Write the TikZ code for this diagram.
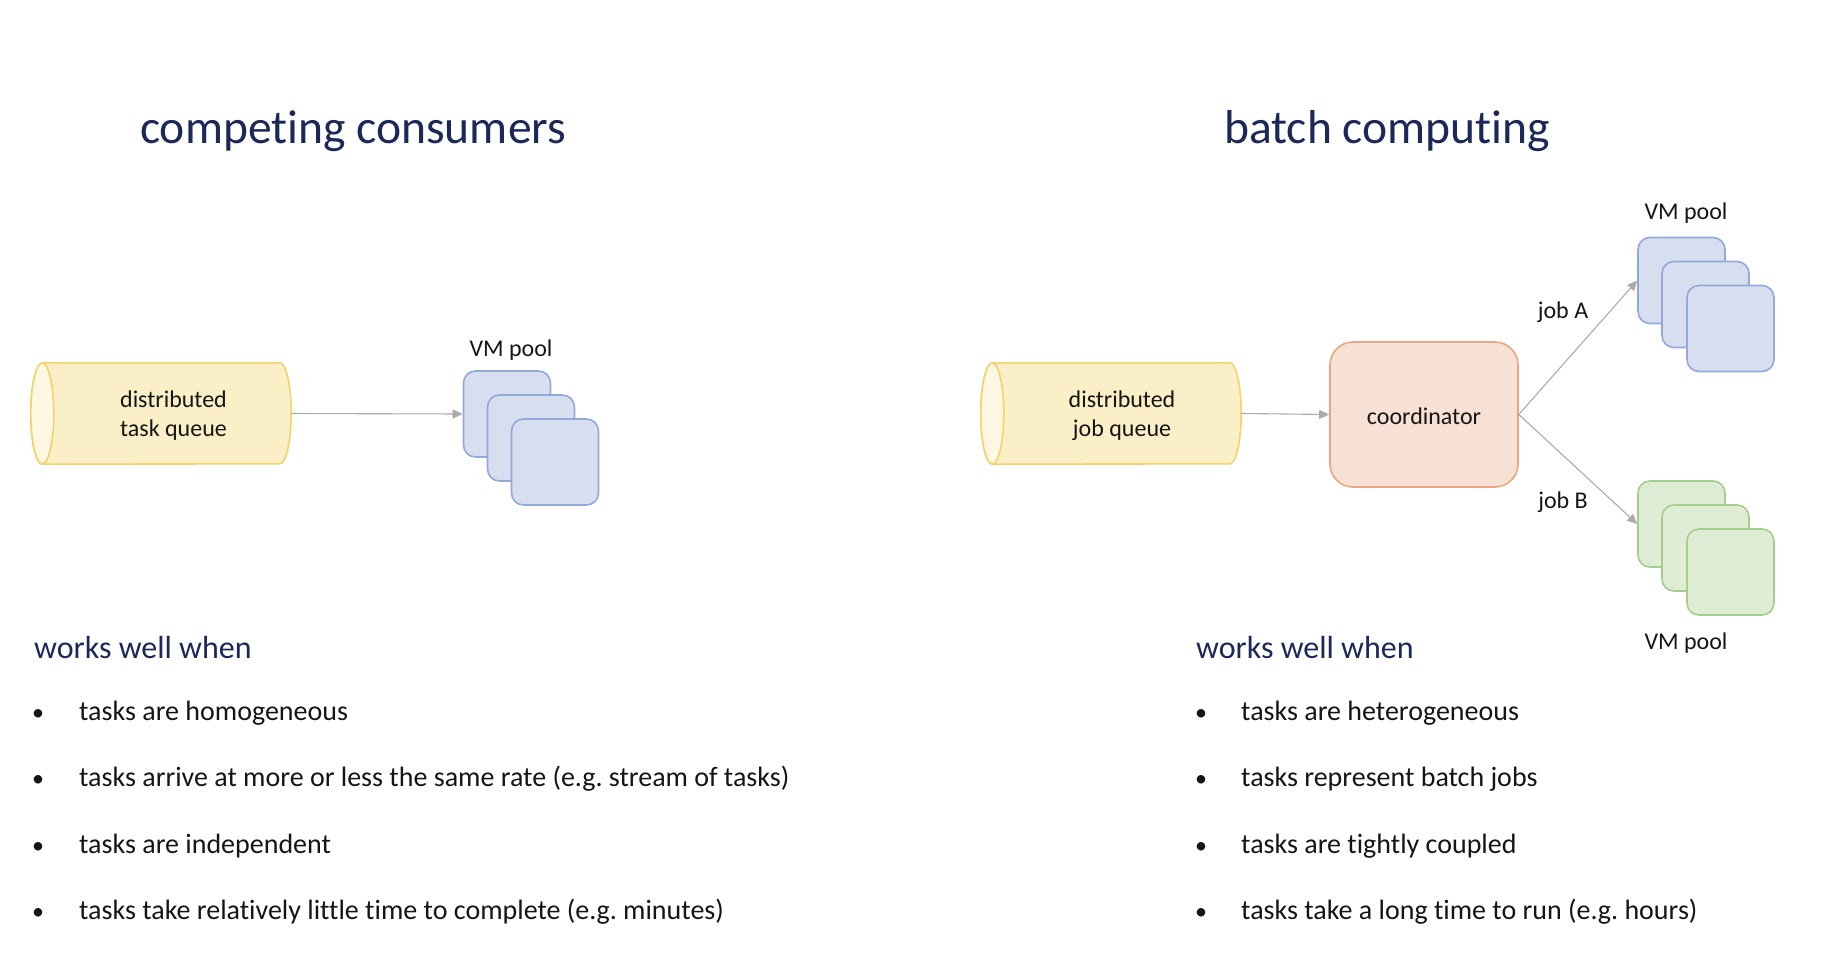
\documentclass[tikz,border=0pt]{standalone}
\usepackage{fontspec}
\setmainfont{Carlito}[Ligatures=NoCommon]
\usetikzlibrary{arrows.meta,calc}
\frenchspacing

\definecolor{navy}{HTML}{1B2858}
\definecolor{inktext}{HTML}{151515}
\definecolor{qfill}{HTML}{FBEFC8}
\definecolor{qcap}{HTML}{FDF7E3}
\definecolor{qline}{HTML}{F2D36C}
\definecolor{bfill}{HTML}{D6DEF0}
\definecolor{bline}{HTML}{93A9D9}
\definecolor{gfill}{HTML}{DEEDD3}
\definecolor{gline}{HTML}{A5CE8E}
\definecolor{cfill}{HTML}{F7E1D4}
\definecolor{cline}{HTML}{E9A680}
\definecolor{arrowgray}{HTML}{ABABAB}

\tikzset{
  title/.style={anchor=base west, text=navy, font=\fontsize{47.6}{57}\selectfont, inner sep=0pt},
  subhead/.style={anchor=base west, text=navy, font=\fontsize{32}{38}\selectfont, inner sep=0pt},
  item/.style={anchor=base west, text=inktext, font=\fontsize{28}{34}\selectfont, inner sep=0pt},
  dot/.style={anchor=base, text=inktext, font=\fontsize{24}{34}\selectfont, inner sep=0pt},
  label/.style={text=inktext, font=\fontsize{24}{29}\selectfont, align=center, inner sep=0pt},
  vmbox/.style={draw, line width=1.6pt, rounded corners=12pt, minimum width=87pt, minimum height=86pt, inner sep=0pt},
  bluevm/.style={vmbox, fill=bfill, draw=bline},
  greenvm/.style={vmbox, fill=gfill, draw=gline},
  coordbox/.style={draw=cline, fill=cfill, line width=1.6pt, rounded corners=23pt, minimum width=188pt, minimum height=145pt, inner sep=0pt},
  queuebox/.style={minimum width=260pt, minimum height=101pt, inner sep=0pt},
  flow/.style={draw=arrowgray, line width=1.1pt, -{Triangle[length=10pt,width=9pt]}}
}

% horizontal queue drawn as a cylinder lying on its side, open cap on the left
\newcommand\queueshape[1]{%
  \path[fill=qfill, draw=qline, line width=1.6pt]
    ($(#1.north west)+(11.5,0)$) -- ($(#1.north east)+(-11.5,0)$)
    arc[start angle=-90, end angle=90, x radius=11.5, y radius=50.5]
    -- ($(#1.south west)+(11.5,0)$)
    arc[start angle=90, end angle=270, x radius=11.5, y radius=50.5] -- cycle;
  \path[fill=qcap, draw=qline, line width=1.6pt]
    ($(#1.west)+(11.5,0)$) ellipse[x radius=11.5, y radius=50.5];
}

\begin{document}
\begin{tikzpicture}[x=1pt, y=-1pt]
\useasboundingbox[fill=white] (0,0) rectangle (1825,969);

% ---------- competing consumers ----------
\node[title] (t1) at (140,143.5) {competing consumers};

\node[queuebox] (q1) at (161,413.5) {};
\queueshape{q1}
\node[label] (q1t) at (173.5,416) {distributed\\task queue};

\node[bluevm] (p1a) at (507,414) {};
\node[bluevm] (p1b) at (531,438) {};
\node[bluevm] (p1c) at (555,462) {};
\node[label] (p1l) at (511,350) {VM pool};

\draw[flow] (q1.east) -- (p1a.west);

\node[subhead] (w1) at (34,658) {works well when};
\foreach \i/\txt in {0/tasks are homogeneous,
                     1/tasks arrive at more or less the same rate (e.g. stream of tasks),
                     2/tasks are independent,
                     3/tasks take relatively little time to complete (e.g. minutes)} {
  \node[dot] (b1d\i) at (38,720+66.6*\i) {•};
  \node[item] (b1t\i) at (79,720+66.6*\i) {\txt};
}

% ---------- batch computing ----------
\node[title] (t2) at (1224,143.5) {batch computing};

\node[queuebox] (q2) at (1111,413.5) {};
\queueshape{q2}
\node[label] (q2t) at (1122,416) {distributed\\job queue};

\node[coordbox] (co) at (1424,414.5) {};
\node[label] (cot) at ($(co.center)+(0,2)$) {coordinator};

\draw[flow] (q2.east) -- (co.west);

\node[bluevm] (pAa) at (1681.5,280.5) {};
\node[bluevm] (pAb) at (1705.5,304.5) {};
\node[bluevm] (pAc) at (1730.5,328.5) {};
\node[label] (pAl) at (1686,213) {VM pool};

\node[greenvm] (pBa) at (1681.5,524) {};
\node[greenvm] (pBb) at (1705.5,548) {};
\node[greenvm] (pBc) at (1730.5,572) {};
\node[label] (pBl) at (1686,643) {VM pool};

\draw[flow] (co.east) -- (pAa.west);
\draw[flow] (co.east) -- (pBa.west);
\node[label] (ja) at (1563,312) {job A};
\node[label] (jb) at (1563,502) {job B};

\node[subhead] (w2) at (1196,658) {works well when};
\foreach \i/\txt in {0/tasks are heterogeneous,
                     1/tasks represent batch jobs,
                     2/tasks are tightly coupled,
                     3/tasks take a long time to run (e.g. hours)} {
  \node[dot] (b2d\i) at (1201,720+66.6*\i) {•};
  \node[item] (b2t\i) at (1241,720+66.6*\i) {\txt};
}
\end{tikzpicture}
\end{document}
